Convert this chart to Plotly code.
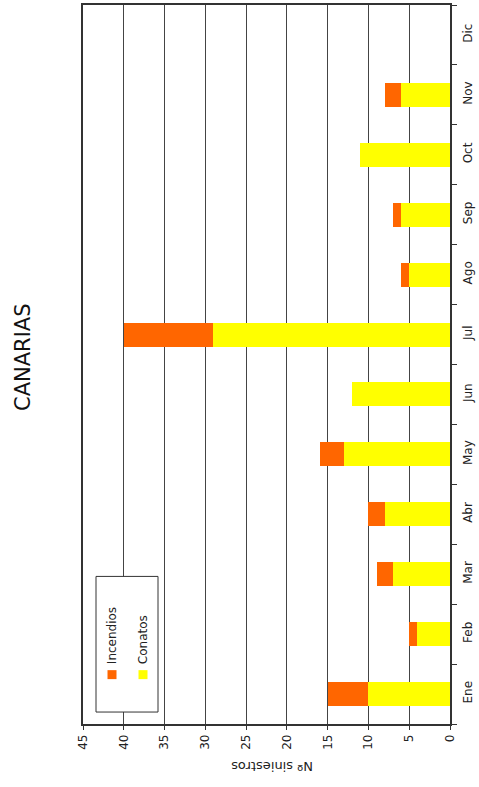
import plotly.graph_objects as go

# Monthly counts for the Canary Islands
meses = ["Ene", "Feb", "Mar", "Abr", "May", "Jun", "Jul", "Ago", "Sep", "Oct", "Nov", "Dic"]
conatos = [10, 4, 7, 8, 13, 12, 29, 5, 6, 11, 6, 0]
incendios = [5, 1, 2, 2, 3, 0, 11, 1, 1, 0, 2, 0]
ticks_valor = [0, 5, 10, 15, 20, 25, 30, 35, 40, 45]

NARANJA = "#FF6600"
AMARILLO = "#FFFF00"
FUENTE = "DejaVu Sans, sans-serif"

W, H = 479, 787
L, R, T, B = 83, 29, 3, 63
pw, ph = W - L - R, H - T - B


def px(x):
    return (x - L) / pw


def py(y):
    return (H - B - y) / ph


fig = go.Figure()
fig.add_trace(go.Bar(y=meses, x=conatos, orientation="h", name="Conatos",
                     marker=dict(color=AMARILLO, line=dict(width=0)), width=0.4))
fig.add_trace(go.Bar(y=meses, x=incendios, orientation="h", name="Incendios",
                     marker=dict(color=NARANJA, line=dict(width=0)), width=0.4))

fig.update_layout(
    width=W, height=H,
    margin=dict(l=L, r=R, t=T, b=B),
    barmode="stack",
    showlegend=False,
    plot_bgcolor="white", paper_bgcolor="white",
    font=dict(family=FUENTE, size=12, color="#222"),
    xaxis=dict(
        range=[45, 0], tickvals=ticks_valor, tickangle=-90,
        showgrid=True, gridcolor="#444", gridwidth=1,
        showline=True, linecolor="#333", linewidth=1.5, mirror=True,
        ticks="outside", ticklen=4, tickcolor="#333",
        zeroline=False, tickfont=dict(size=12),
    ),
    yaxis=dict(
        side="right", type="category", categoryorder="array", categoryarray=meses,
        tickangle=-90, tickson="boundaries",
        showline=True, linecolor="#333", linewidth=1.5, mirror=True,
        ticks="outside", ticklen=5, tickcolor="#333",
        ticklabelstandoff=6,
        showgrid=False, tickfont=dict(size=12),
    ),
)

# Rotated title and axis label
fig.add_annotation(text="CANARIAS", x=px(23), y=py(356), xref="paper", yref="paper",
                   xanchor="center", yanchor="middle",
                   showarrow=False, textangle=-90, font=dict(size=21, color="#111"))
fig.add_annotation(text="Nº siniestros", x=px(272), y=py(766), xref="paper", yref="paper",
                   xanchor="center", yanchor="middle",
                   showarrow=False, textangle=180, font=dict(size=13, color="#222"))

# Legend box drawn with rotated labels
fig.add_shape(type="rect", xref="paper", yref="paper",
              x0=px(96), x1=px(158), y0=py(712), y1=py(576),
              line=dict(color="#333", width=1), fillcolor="white")
leyenda = [("Incendios", NARANJA, 112), ("Conatos", AMARILLO, 143)]
for nombre, color, cx in leyenda:
    fig.add_shape(type="rect", xref="paper", yref="paper",
                  x0=px(cx - 4.5), x1=px(cx + 4.5), y0=py(679), y1=py(670),
                  line=dict(width=0), fillcolor=color)
    fig.add_annotation(text=nombre, x=px(cx - 0.5), y=py(666), xref="paper", yref="paper",
                       showarrow=False, textangle=-90, yanchor="bottom", xanchor="center",
                       font=dict(size=12, color="#222"))

fig.write_html("out.html")
